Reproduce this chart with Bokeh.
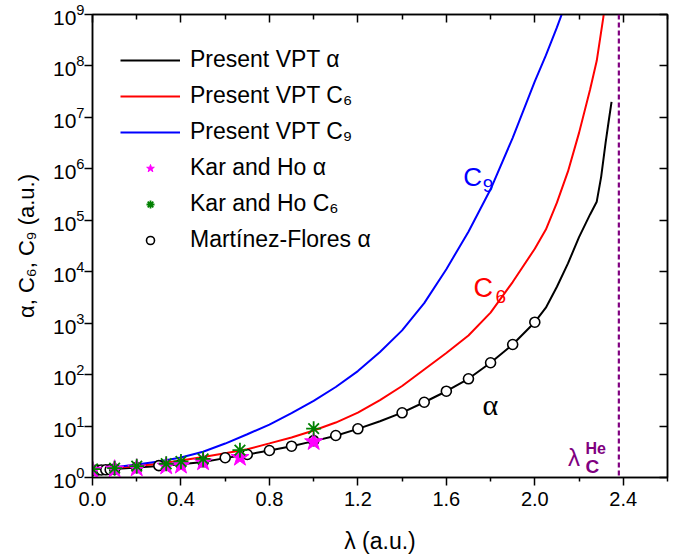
import numpy as np
from bokeh.plotting import figure
from bokeh.models import (Range1d, LogAxis, LinearAxis, FixedTicker, Legend, LegendItem,
                          Label, Span, PrintfTickFormatter, CustomJSTickFormatter,
                          LogTickFormatter)
from bokeh.embed import file_html
from bokeh.resources import INLINE

# ---------------- data ----------------
# Present VPT alpha (black line)
lam_alpha = [0.0, 0.1, 0.2, 0.3, 0.4, 0.5, 0.6, 0.7, 0.8, 0.9, 1.0, 1.1, 1.2, 1.3, 1.4,
             1.5, 1.6, 1.7, 1.8, 1.9, 2.0, 2.05, 2.1, 2.15, 2.2, 2.25, 2.28, 2.3, 2.32,
             2.335, 2.347]
alpha_vpt = [1.383, 1.46, 1.56, 1.68, 1.81, 2.0, 2.38, 2.8, 3.35, 4.05, 5.1, 6.5, 8.8, 12.4,
             18.2, 29.0, 47.5, 83.0, 170.0, 385.0, 1045.0, 2000.0, 5100.0, 14500.0, 47000.0,
             1.3e5, 2.3e5, 7.0e5, 3.2e6, 9.0e6, 2.0e7]

# Present VPT C6 (red line)
lam_c6 = [0.0, 0.1, 0.2, 0.3, 0.4, 0.5, 0.6, 0.7, 0.8, 0.9, 1.0, 1.1, 1.2, 1.3, 1.4, 1.5,
          1.6, 1.7, 1.8, 1.9, 2.0, 2.05, 2.1, 2.15, 2.2, 2.25, 2.28, 2.31, 2.32]
c6_vpt = [1.46, 1.53, 1.67, 1.85, 2.14, 2.5, 2.95, 3.55, 4.6, 6.0, 8.2, 11.7, 18.2, 32.0,
          60.0, 126.0, 263.0, 575.0, 1600.0, 6300.0, 2.8e4, 6.6e4, 2.2e5, 8.9e5, 5.0e6,
          3.5e7, 1.26e8, 8.9e8, 2.0e9]

# Present VPT C9 (blue line)
lam_c9 = [0.0, 0.1, 0.2, 0.3, 0.4, 0.5, 0.6, 0.7, 0.8, 0.9, 1.0, 1.1, 1.2, 1.3, 1.4, 1.5,
          1.6, 1.7, 1.8, 1.9, 2.0, 2.05, 2.1, 2.13]
c9_vpt = [1.48, 1.58, 1.79, 2.04, 2.45, 3.16, 4.57, 6.92, 10.7, 17.8, 30.9, 57.5, 117.0,
          275.0, 724.0, 2450.0, 1.12e4, 6.0e4, 4.0e5, 4.0e6, 5.0e7, 1.6e8, 5.6e8, 1.26e9]

# Kar and Ho
lam_kar = [0.0, 0.1, 0.2, 1 / 3, 0.4, 0.5, 2 / 3, 1.0]
alpha_kar = [1.383, 1.45, 1.52, 1.66, 1.72, 2.0, 2.45, 4.95]
c6_kar = [1.46, 1.52, 1.66, 1.85, 2.05, 2.3, 3.4, 8.9]

# Martinez-Flores alpha
lam_mf = [0.0, 0.02, 0.04, 0.06, 0.08, 0.1, 0.2, 0.3, 0.4, 0.5, 0.6, 0.7, 0.8, 0.9, 1.0,
          1.1, 1.2, 1.4, 1.5, 1.6, 1.7, 1.8, 1.9, 2.0]
alpha_mf = [1.383, 1.39, 1.40, 1.41, 1.42, 1.46, 1.56, 1.70, 1.81, 2.02, 2.42, 2.8, 3.35,
            4.06, 5.2, 6.55, 8.85, 18.1, 29.0, 47.6, 83.0, 170.0, 385.0, 1045.0]

# critical screening parameter of He
lambda_c_he = 2.38

x_major = [0.0, 0.4, 0.8, 1.2, 1.6, 2.0, 2.4]
x_minor = [0.2, 0.6, 1.0, 1.4, 1.8, 2.2, 2.6]
y_exponents = [0, 1, 2, 3, 4, 5, 6, 7, 8, 9]

FONT = "Liberation Sans"

# ---------------- figure ----------------
p = figure(width=682, height=556, x_range=Range1d(0, 2.6), y_range=Range1d(1, 1e9),
           y_axis_type="log", output_backend="svg", toolbar_location=None,
           min_border_left=92, min_border_right=15, min_border_top=14, min_border_bottom=79)
p.grid.visible = False
p.outline_line_color = "black"
p.outline_line_width = 1.5
p.background_fill_color = "white"
p.border_fill_color = "white"

# bottom axis
xa = p.xaxis[0]
xa.ticker = FixedTicker(ticks=x_major, minor_ticks=x_minor)
xa.formatter = PrintfTickFormatter(format="%.1f")
xa.major_tick_out = 8
xa.major_tick_in = 0
xa.minor_tick_out = 4
xa.minor_tick_in = 0
xa.axis_line_width = 1.5
xa.major_tick_line_width = 1.5
xa.minor_tick_line_width = 1.5
xa.major_label_text_font = FONT
xa.major_label_text_font_size = "20px"
xa.major_label_text_color = "black"
xa.major_label_standoff = 6
xa.axis_label = "λ (a.u.)"
xa.axis_label_text_font = FONT
xa.axis_label_text_font_size = "23px"
xa.axis_label_text_font_style = "normal"
xa.axis_label_text_color = "black"
xa.axis_label_standoff = 19

# left axis
decades = [10.0 ** e for e in y_exponents]
ya = p.yaxis[0]
ya.ticker = FixedTicker(ticks=decades, minor_ticks=[])
ya.formatter = LogTickFormatter()
ya.major_tick_out = 8
ya.major_tick_in = 0
ya.minor_tick_line_color = None
ya.axis_line_width = 1.5
ya.major_tick_line_width = 1.5
ya.major_label_text_font = FONT
ya.major_label_text_font_size = "21px"
ya.major_label_text_color = "black"
ya.major_label_standoff = 0
ya.axis_label = "α, C₆, C₉ (a.u.)"
ya.axis_label_text_font = FONT
ya.axis_label_text_font_size = "22px"
ya.axis_label_text_font_style = "normal"
ya.axis_label_text_color = "black"
ya.axis_label_standoff = 11

# top axis (mirror, inward ticks)
top = LinearAxis(ticker=FixedTicker(ticks=x_major, minor_ticks=x_minor),
                 formatter=CustomJSTickFormatter(code="return ''"),
                 major_tick_in=8, major_tick_out=0, minor_tick_in=5, minor_tick_out=0,
                 axis_line_width=1.5, major_tick_line_width=1.5, minor_tick_line_width=1.5,
                 major_label_text_font_size="0px", major_label_standoff=0)
p.add_layout(top, "above")

# right axis (mirror, inward ticks)
right = LogAxis(ticker=FixedTicker(ticks=decades, minor_ticks=[]),
                formatter=CustomJSTickFormatter(code="return ''"),
                major_tick_in=8, major_tick_out=0, minor_tick_line_color=None,
                axis_line_width=1.5, major_tick_line_width=1.5,
                major_label_text_font_size="0px", major_label_standoff=0)
p.add_layout(right, "right")

# ---------------- glyphs ----------------
r_a = p.line(lam_alpha, alpha_vpt, line_color="black", line_width=2)
r_c6 = p.line(lam_c6, c6_vpt, line_color="#FF0000", line_width=2)
r_c9 = p.line(lam_c9, c9_vpt, line_color="#0000FF", line_width=2)
r_mf = p.scatter(lam_mf, alpha_mf, marker="circle", size=10, line_color="black",
                 line_width=1.6, fill_color="white")
r_ka = p.scatter(lam_kar, alpha_kar, marker="star", size=19, line_color="#FF00FF",
                 fill_color="#FF00FF", line_width=1)
r_kc6 = p.scatter(lam_kar, c6_kar, marker="asterisk", size=15, line_color="#008000",
                  line_width=1.8)

p.add_layout(Span(location=lambda_c_he, dimension="height", line_color="#800080",
                  line_dash="5 3", line_width=2.2))

# ---------------- annotations ----------------
p.add_layout(Label(x=1.676, y=10 ** 5.838, text="C", text_font=FONT, text_font_size="26px",
                   text_color="#0000FF", text_baseline="alphabetic"))
p.add_layout(Label(x=1.765, y=10 ** 5.677, text="9", text_font=FONT, text_font_size="19px",
                   text_color="#0000FF", text_baseline="alphabetic"))
p.add_layout(Label(x=1.723, y=10 ** 3.674, text="C", text_font=FONT, text_font_size="27px",
                   text_color="#FF0000", text_baseline="alphabetic"))
p.add_layout(Label(x=1.822, y=10 ** 3.519, text="6", text_font=FONT, text_font_size="19px",
                   text_color="#FF0000", text_baseline="alphabetic"))
p.add_layout(Label(x=1.763, y=10 ** 1.419, text="α", text_font="Liberation Serif",
                   text_font_size="30px", text_color="black", text_baseline="alphabetic"))
p.add_layout(Label(x=2.150, y=10 ** 0.389, text="λ", text_font=FONT, text_font_size="24px",
                   text_color="#800080", text_baseline="alphabetic"))
p.add_layout(Label(x=2.229, y=10 ** 0.564, text="He", text_font=FONT, text_font_size="16px",
                   text_font_style="bold", text_color="#800080", text_baseline="alphabetic"))
p.add_layout(Label(x=2.229, y=10 ** 0.214, text="C", text_font=FONT, text_font_size="19px",
                   text_font_style="bold", text_color="#800080", text_baseline="alphabetic"))

# ---------------- legend ----------------
legend = Legend(items=[
    LegendItem(label="Present VPT α", renderers=[r_a]),
    LegendItem(label="Present VPT C₆", renderers=[r_c6]),
    LegendItem(label="Present VPT C₉", renderers=[r_c9]),
    LegendItem(label="Kar and Ho α", renderers=[r_ka]),
    LegendItem(label="Kar and Ho C₆", renderers=[r_kc6]),
    LegendItem(label="Martínez-Flores α", renderers=[r_mf]),
], location="top_left", margin=28, padding=10, spacing=1, label_height=35,
    glyph_height=20, glyph_width=60, label_standoff=10, label_text_font=FONT,
    label_text_font_size="23px", label_text_color="black", border_line_color=None,
    background_fill_alpha=0)
p.add_layout(legend)

open("out.html", "w").write(file_html(p, INLINE))
